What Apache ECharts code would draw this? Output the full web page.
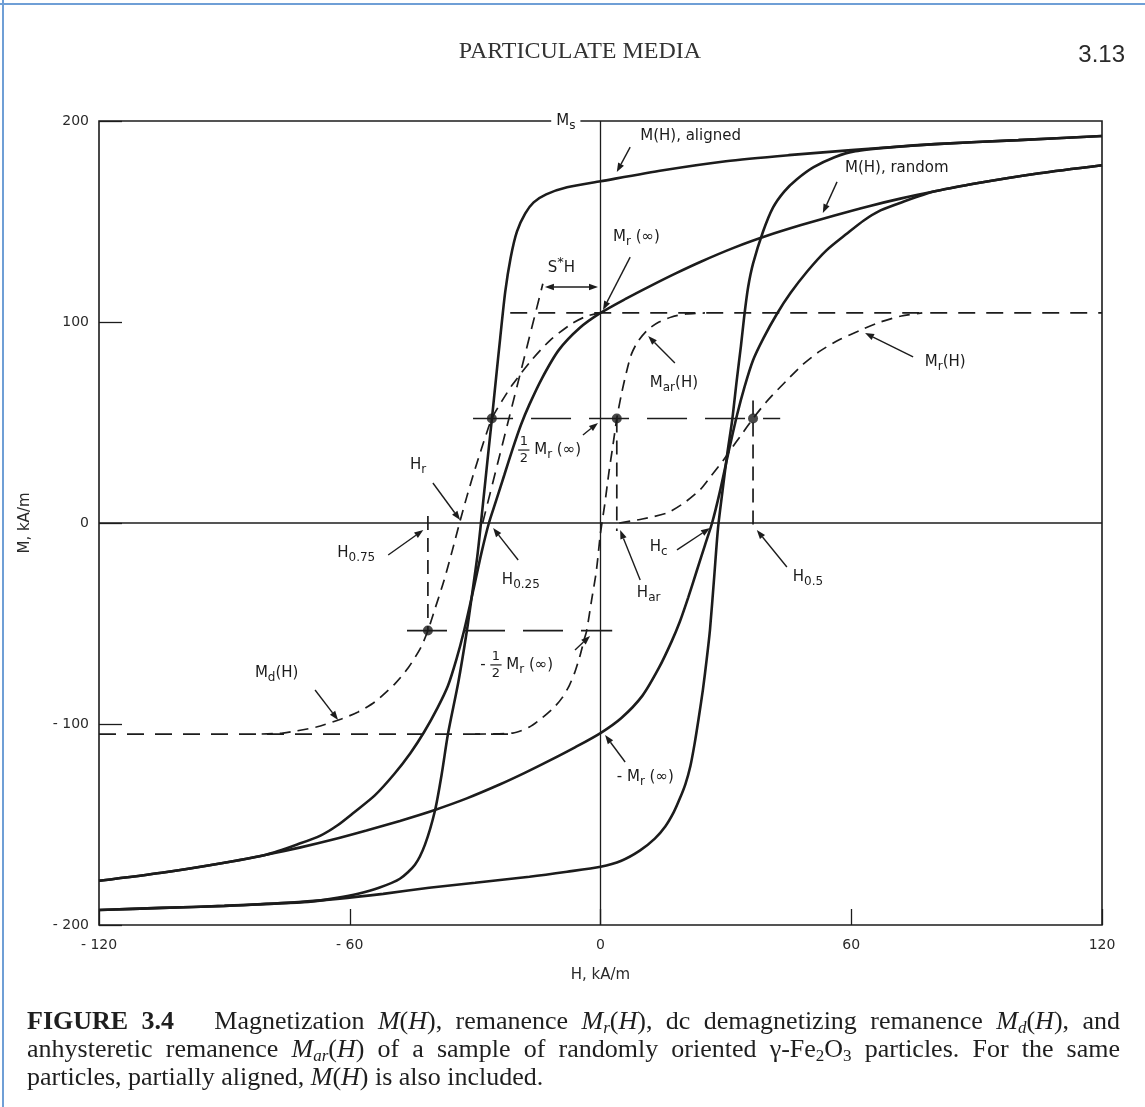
<!DOCTYPE html>
<html>
<head>
<meta charset="utf-8">
<script src="https://cdn.jsdelivr.net/npm/echarts@6.0.0/dist/echarts.min.js"></script>
<style>
html,body{margin:0;padding:0;background:#ffffff;}
#chart{width:1145px;height:1107px;}
</style>
</head>
<body>
<div id="chart"></div>
<script>
// ================= DATA =================
const xTickValues = [-120, -60, 0, 60, 120];
const yTickValues = [-200, -100, 0, 100, 200];

// M(H), partially aligned particles: descending (upper) and ascending (lower) branches [H, M]
const alignedUpper = [[120,192.5],[100,190.5],[80,188.5],[60,185.5],[45,183],[30,180],[15,175.5],[0,170],[-8,167],[-13,163.5],[-16,159.5],[-18,154],[-20,145],[-21.5,132],[-22.8,115],[-24,92],[-25,72],[-26,51.5],[-27,32],[-28,12],[-28.6,0],[-29.5,-17],[-30.7,-35],[-32,-54],[-34,-79],[-36.5,-105],[-38,-125],[-39.6,-143],[-42,-160],[-44.4,-170],[-48,-177],[-53,-181.5],[-58,-184.5],[-63,-186.5],[-70,-188.5],[-80,-189.5],[-90,-190.5],[-105,-191.5],[-120,-192.5]];
const alignedLower = [[-120,-192.5],[-105,-191.5],[-90,-190.5],[-75,-189],[-63,-187],[-52,-184.5],[-41,-181.5],[-30,-179],[-17,-176],[-8,-173.5],[0,-171],[5,-168],[9.4,-163],[13,-157],[15.5,-151],[17.5,-144],[19,-137],[20.3,-130],[21.5,-121],[22.5,-110],[23.5,-97],[24.5,-83],[25.4,-68],[26.2,-53],[27.2,-27],[28.1,-3],[29.2,16],[30.3,34],[31.5,51],[32.6,71],[33.6,88],[34.4,103],[35.3,117],[36.5,129],[38.9,145],[41.3,157],[44,165],[47,171],[51,177],[56,182],[61,185],[70,187],[80,188.5],[100,190.5],[120,192.5]];

// M(H), randomly oriented particles
const randomUpper = [[120,178],[105,174],[90,169],[80,165],[72,161.5],[64,157.5],[56,153],[48,148.2],[40,143],[32,137],[24,130],[18,124.2],[12,118],[6,111.5],[0,104.5],[-5,97],[-10,86],[-14,72],[-17,59],[-19,49],[-21,37],[-23,24],[-25,11],[-26.7,0],[-28.5,-15],[-30.5,-34],[-32.7,-54],[-34.5,-68],[-36.5,-81],[-39,-92],[-42.2,-104],[-45.5,-114.5],[-49.4,-125],[-54,-135.5],[-59,-144],[-63,-150.5],[-67,-155.5],[-72,-159.5],[-80,-165],[-90,-169],[-105,-174],[-120,-178]];
const randomLower = [[-120,-178],[-105,-174],[-90,-169],[-80,-165],[-72,-161.5],[-64,-157.5],[-56,-153],[-48,-148.2],[-40,-143],[-32,-137],[-24,-130],[-18,-124.2],[-12,-118],[-6,-111.5],[0,-104.5],[5,-97],[10,-86],[14,-72],[17,-59],[19,-49],[21,-37],[23,-24],[25,-11],[26.7,0],[28.5,15],[30.5,34],[32.7,54],[34.5,68],[36.5,81],[39,92],[42.2,104],[45.5,114.5],[49.4,125],[54,135.5],[59,144],[63,150.5],[67,155.5],[72,159.5],[80,165],[90,169],[105,174],[120,178]];

// Remanence curves (dashed)
const remanenceMr = [[4.5,0],[10,2],[15.9,5],[20,10],[23.8,16.5],[26.5,23.5],[29.3,31],[31.5,37.5],[33.4,43],[36.5,52],[40,61],[44.6,71],[48.5,79],[52.5,85.5],[57,91],[62.8,96.5],[67,100],[72,103],[77,104.5]];
const demagMd = [[0,104.5],[-3.2,103],[-7,99],[-12,91],[-16.5,81],[-21,69],[-23.5,61],[-26,52],[-28,40],[-30,27],[-32,13],[-33.6,1],[-35.5,-14],[-37.5,-29],[-39.5,-42],[-41.3,-53.5],[-43,-62],[-46,-72],[-49.2,-80],[-54,-89],[-58,-94],[-62,-97.5],[-68,-101.5],[-76,-104.5],[-82,-105]];
const anhystMar = [[-30,-105],[-21,-104.5],[-17,-101.5],[-14,-97],[-11,-91.5],[-9.2,-87],[-7.5,-81],[-6.1,-74],[-4.9,-66],[-3.9,-58],[-3.3,-53.5],[-2.1,-38],[-1,-24],[0,-5],[1,9],[2,25],[3,39],[3.9,52],[5,64],[6.2,75],[7.4,84],[9,90.5],[11.5,96.5],[14,100],[17,102.5],[20.5,104],[25,104.5]];

// Construction lines
const tangentLine = [[-28.2,0],[-13.8,119]];
const saturationUpper = [[-21.6,104.5],[120,104.5]];
const saturationLower = [[-120,-105],[-20.5,-105]];
const halfUpper = [[-30.5,52],[43,52]];
const halfLower = [[-46.3,-53.5],[2.8,-53.5]];
const lineH05 = [[36.5,61],[36.5,-3]];
const lineHar = [[3.9,52],[3.9,-4]];
const lineH075 = [[-41.3,3.5],[-41.3,-53.5]];
const markerDots = [[-26,52],[3.9,52],[36.5,52],[-41.3,-53.5]];
const zeroH = [[-120,0],[120,0]];
const zeroV = [[0,-200],[0,200]];

// ================= CHART =================
const INK = '#1c1c1c';
const chart = echarts.init(document.getElementById('chart'), null, {renderer: 'canvas'});

function curve(data, width, dash, smooth, z) {
  return {type: 'line', data: data, symbol: 'none', showSymbol: false, smooth: smooth,
    silent: true, z: z, lineStyle: {color: INK, width: width, type: dash}};
}
const tickFmt = v => v < 0 ? '- ' + (-v) : String(v);

const option = {
  animation: false,
  backgroundColor: '#ffffff',
  grid: {left: 99, right: 43, top: 121, bottom: 182, show: true, borderColor: INK, borderWidth: 1.6, backgroundColor: 'transparent'},
  xAxis: {
    type: 'value', min: xTickValues[0], max: xTickValues[xTickValues.length-1], interval: xTickValues[1]-xTickValues[0],
    axisLine: {show: false, onZero: false},
    axisTick: {show: true, inside: true, length: 16, lineStyle: {color: INK, width: 1.3}},
    splitLine: {show: false},
    axisLabel: {formatter: tickFmt, fontFamily: 'DejaVu Sans', fontSize: 14, color: '#2a2a2a', margin: 13},
    name: 'H, kA/m', nameLocation: 'middle', nameGap: 43,
    nameTextStyle: {fontFamily: 'DejaVu Sans', fontSize: 15, color: '#2a2a2a'}
  },
  yAxis: {
    type: 'value', min: yTickValues[0], max: yTickValues[yTickValues.length-1], interval: yTickValues[1]-yTickValues[0],
    axisLine: {show: false, onZero: false},
    axisTick: {show: true, inside: true, length: 23, lineStyle: {color: INK, width: 1.3}},
    splitLine: {show: false},
    axisLabel: {formatter: tickFmt, fontFamily: 'DejaVu Sans', fontSize: 14, color: '#2a2a2a', margin: 10},
    name: 'M, kA/m', nameLocation: 'middle', nameGap: 66, nameRotate: 90,
    nameTextStyle: {fontFamily: 'DejaVu Sans', fontSize: 15, color: '#2a2a2a'}
  },
  series: [
    curve(zeroH, 1.3, 'solid', false, 2),
    curve(zeroV, 1.3, 'solid', false, 2),
    curve(alignedUpper, 2.6, 'solid', 0.25, 6),
    curve(alignedLower, 2.6, 'solid', 0.25, 6),
    curve(randomUpper, 2.6, 'solid', 0.25, 6),
    curve(randomLower, 2.6, 'solid', 0.25, 6),
    curve(remanenceMr, 1.7, [11, 7], 0.25, 5),
    curve(demagMd, 1.7, [11, 7], 0.25, 5),
    curve(anhystMar, 1.7, [11, 7], 0.25, 5),
    curve(tangentLine, 1.7, [12, 8], false, 5),
    curve(saturationUpper, 1.7, [17, 11], false, 4),
    curve(saturationLower, 1.7, [17, 11], false, 4),
    curve(halfUpper, 1.7, [40, 18], false, 4),
    curve(halfLower, 1.7, [40, 18], false, 4),
    curve(lineH05, 1.7, [14, 8], false, 4),
    curve(lineHar, 1.7, [14, 8], false, 4),
    curve(lineH075, 1.7, [14, 8], false, 4),
    {type: 'scatter', data: markerDots, symbol: 'circle', symbolSize: 10, silent: true, z: 7,
     itemStyle: {color: INK}}
  ]
};
chart.setOption(option);

// ================= ANNOTATIONS =================
const mctx = document.createElement('canvas').getContext('2d');
function tw(t, font) { mctx.font = font; return mctx.measureText(t).width; }
const P = (pt) => chart.convertToPixel({gridIndex: 0}, pt);
const els = [];

const LBL = {n: '15px "DejaVu Sans"', sub: '12px "DejaVu Sans"', sup: '13px "DejaVu Sans"', frac: '13px "DejaVu Sans"',
             dy: {sub: 5, sup: -5}};

function textEl(t, x, y, font, align, fill) {
  return {type: 'text', x: x, y: y, z: 100,
    style: {text: t, font: font, fill: fill || INK, textAlign: align || 'left', textVerticalAlign: 'middle', align: align || 'left', verticalAlign: 'middle'}};
}
function runsWidth(runs, fonts) {
  return runs.reduce((s, r) => s + (r[1] === 'frac' ? tw('1', fonts.frac) + 3 : tw(r[0], fonts[r[1] || 'n'])), 0);
}
function placeRuns(runs, x, y, fonts, fill) {
  let cx = x;
  runs.forEach(r => {
    const k = r[1] || 'n';
    if (k === 'frac') {
      const w = tw('1', fonts.frac) + 3;
      els.push(textEl('1', cx + w/2, y - 8, fonts.frac, 'center', fill));
      els.push({type: 'line', z: 100, shape: {x1: cx, y1: y, x2: cx + w, y2: y}, style: {stroke: fill || INK, lineWidth: 1.2}});
      els.push(textEl('2', cx + w/2, y + 9, fonts.frac, 'center', fill));
      cx += w;
    } else {
      els.push(textEl(r[0], cx, y + (fonts.dy[k] || 0), fonts[k], 'left', fill));
      cx += tw(r[0], fonts[k]);
    }
  });
  return cx - x;
}
function arrowHead(b, ux, uy) {
  const hl = 9, hw = 3.3;
  const base = [b[0] - ux*hl, b[1] - uy*hl];
  els.push({type: 'polygon', z: 101, shape: {points: [[b[0], b[1]], [base[0] - uy*hw, base[1] + ux*hw], [base[0] + uy*hw, base[1] - ux*hw]]}, style: {fill: INK}});
  return base;
}
function arrow(from, to, both) {
  let a = P(from), b = P(to);
  const dx = b[0]-a[0], dy = b[1]-a[1], L = Math.hypot(dx, dy), ux = dx/L, uy = dy/L;
  const bEnd = arrowHead(b, ux, uy);
  let aEnd = a;
  if (both) aEnd = arrowHead(a, -ux, -uy);
  els.push({type: 'line', z: 100, shape: {x1: aEnd[0], y1: aEnd[1], x2: bEnd[0], y2: bEnd[1]}, style: {stroke: INK, lineWidth: 1.4}});
}

// annotation specs: runs, anchor (left-middle, data coords), arrow [from, to]
const notes = [
  {runs: [['M(H), aligned']], at: [9.5, 192.5], arrow: [[7.1, 187], [3.9, 174.6]]},
  {runs: [['M(H), random']], at: [58.5, 176.6], arrow: [[56.6, 169.7], [53.2, 154.2]]},
  {runs: [['M'], ['r', 'sub'], [' (∞)']], at: [3, 142.3], arrow: [[7.1, 132.3], [0.6, 106]]},
  {runs: [['S'], ['*', 'sup'], ['H']], at: [-12.6, 126.9], arrow: [[-13.3, 117.4], [-0.6, 117.4]], both: true},
  {runs: [['M'], ['ar', 'sub'], ['(H)']], at: [11.8, 69.7], arrow: [[17.8, 79.6], [11.4, 93]]},
  {runs: [['M'], ['r', 'sub'], ['(H)']], at: [77.6, 80.1], arrow: [[74.8, 82.6], [63.3, 94.5]]},
  {runs: [['', 'frac'], [' M'], ['r', 'sub'], [' (∞)']], at: [-19.7, 36.3], arrow: [[-4.2, 43.8], [-0.6, 49.8]]},
  {runs: [['H'], ['r', 'sub']], at: [-45.6, 28.9], arrow: [[-40.1, 19.9], [-33.6, 1.5]]},
  {runs: [['H'], ['0.75', 'sub']], at: [-63, -14.9], arrow: [[-50.8, -15.9], [-42.4, -3.5]]},
  {runs: [['H'], ['0.25', 'sub']], at: [-23.6, -28.4], arrow: [[-19.7, -18.4], [-25.7, -2.5]]},
  {runs: [['- '], ['', 'frac'], [' M'], ['r', 'sub'], [' (∞)']], at: [-28.8, -70.6], arrow: [[-6.1, -63.2], [-2.5, -56.2]]},
  {runs: [['H'], ['c', 'sub']], at: [11.8, -11.9], arrow: [[18.3, -13.4], [26.2, -2.5]]},
  {runs: [['H'], ['ar', 'sub']], at: [8.7, -34.8], arrow: [[9.5, -28.4], [4.7, -3.5]]},
  {runs: [['H'], ['0.5', 'sub']], at: [46, -26.9], arrow: [[44.6, -21.9], [37.4, -3.5]]},
  {runs: [['M'], ['d', 'sub'], ['(H)']], at: [-82.7, -74.6], arrow: [[-68.3, -83.1], [-62.8, -98]]},
  {runs: [['- M'], ['r', 'sub'], [' (∞)']], at: [3.9, -126.4], arrow: [[5.9, -118.9], [1.1, -105.5]], knockout: true},
  {runs: [['M'], ['s', 'sub']], at: [-8.3, 200], center: true, knockout: true}
];

notes.forEach(n => {
  const p = P(n.at);
  const w = runsWidth(n.runs, LBL);
  const x0 = n.center ? p[0] - w/2 : p[0];
  if (n.knockout) {
    els.push({type: 'rect', z: 99, shape: {x: x0 - 5, y: p[1] - 10, width: w + 10, height: 22}, style: {fill: '#ffffff'}});
  }
  placeRuns(n.runs, x0, p[1], LBL);
  if (n.arrow) arrow(n.arrow[0], n.arrow[1], n.both);
});

// ================= PAGE TEXT (header, caption, frame) =================
els.push({type: 'line', z: 100, shape: {x1: 3, y1: 0, x2: 3, y2: 1107}, style: {stroke: '#6f9fd6', lineWidth: 2}});
els.push({type: 'line', z: 100, shape: {x1: 0, y1: 4, x2: 1145, y2: 4}, style: {stroke: '#6f9fd6', lineWidth: 2}});
els.push(textEl('PARTICULATE MEDIA', 580, 52, '24px "Liberation Serif"', 'center', '#333333'));
els.push(textEl('3.13', 1125, 55, '24px "Liberation Sans"', 'right', '#2a2a2a'));

const CAP = {n: '26px "Liberation Serif"', b: 'bold 26px "Liberation Serif"', i: 'italic 26px "Liberation Serif"',
             si: 'italic 17px "Liberation Serif"', sn: '17px "Liberation Serif"', dy: {si: 7, sn: 7}};
const captionLines = [
  {y: 1022, justify: true, words: [
    [['FIGURE', 'b']], [['3.4', 'b']], 'GAP', [['Magnetization']], [['M', 'i'], ['('], ['H', 'i'], ['),']], [['remanence']],
    [['M', 'i'], ['r', 'si'], ['('], ['H', 'i'], ['),']], [['dc']], [['demagnetizing']], [['remanence']],
    [['M', 'i'], ['d', 'si'], ['('], ['H', 'i'], ['),']], [['and']]]},
  {y: 1050, justify: true, words: [
    [['anhysteretic']], [['remanence']], [['M', 'i'], ['ar', 'si'], ['('], ['H', 'i'], [')']], [['of']], [['a']], [['sample']],
    [['of']], [['randomly']], [['oriented']], [['γ-Fe'], ['2', 'sn'], ['O'], ['3', 'sn']], [['particles.']], [['For']], [['the']], [['same']]]},
  {y: 1078, justify: false, words: [
    [['particles,']], [['partially']], [['aligned,']], [['M', 'i'], ['('], ['H', 'i'], [')']], [['is']], [['also']], [['included.']]]}
];
const capLeft = 27, capRight = 1120;
captionLines.forEach(line => {
  const words = [];
  const gapWeights = [];
  let pendingGap = false;
  line.words.forEach(w => {
    if (w === 'GAP') { pendingGap = true; return; }
    if (words.length > 0) gapWeights.push(pendingGap ? 3 : 1);
    pendingGap = false;
    words.push(w);
  });
  const widths = words.map(w => runsWidth(w, CAP));
  const sumW = widths.reduce((a, b) => a + b, 0);
  const wsum = gapWeights.reduce((a, b) => a + b, 0);
  const unit = line.justify ? (capRight - capLeft - sumW) / wsum : tw(' ', CAP.n);
  let cx = capLeft;
  words.forEach((w, i) => {
    placeRuns(w, cx, line.y, CAP, '#1e1e1e');
    cx += widths[i] + (i < gapWeights.length ? gapWeights[i] * unit : 0);
  });
});

chart.setOption({graphic: {elements: els}});
</script>
</body>
</html>
